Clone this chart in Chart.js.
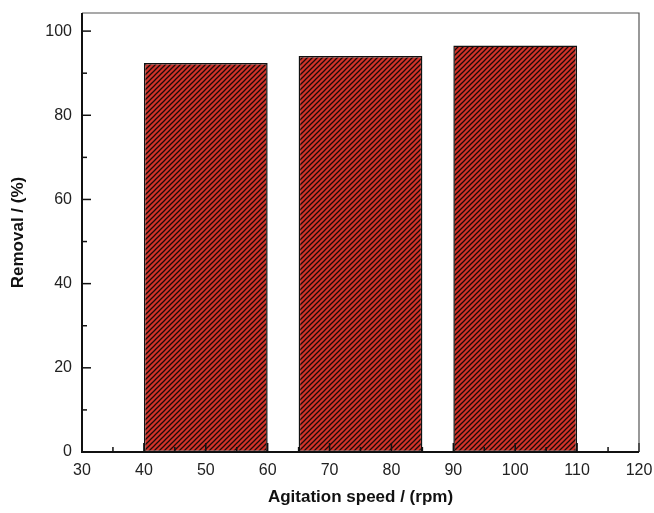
<!DOCTYPE html>
<html>
<head>
<meta charset="utf-8">
<script src="https://cdn.jsdelivr.net/npm/chart.js@4"></script>
<style>
  html, body { margin: 0; padding: 0; background: #fff; }
  #wrap { width: 654px; height: 513px; }
</style>
</head>
<body>
<div id="wrap"><canvas id="removalChart"></canvas></div>
<script>
// --- data ---
const speeds = [50, 75, 100];            // bar centres, rpm
const removal = [92.4, 94.1, 96.6];      // removal, %
const xTicks = [30, 40, 50, 60, 70, 80, 90, 100, 110, 120];
const yTicks = [0, 20, 40, 60, 80, 100];
const barWidthRpm = 20;                  // each bar spans 20 rpm
const xStep = 5;
const yStep = 10;

// diagonal hatch: red with black "/" lines
const makeHatch = () => {
    const s = 5;
    const c = document.createElement('canvas');
    c.width = s; c.height = s;
    const g = c.getContext('2d');
    g.fillStyle = '#d0332a';
    g.fillRect(0, 0, s, s);
    g.strokeStyle = '#1a0a08';
    g.lineWidth = 1.25;
    g.beginPath();
    g.moveTo(-1, s + 1); g.lineTo(s + 1, -1);
    g.moveTo(-1, 1); g.lineTo(1, -1);
    g.moveTo(s - 1, s + 1); g.lineTo(s + 1, s - 1);
    g.stroke();
    return g.createPattern(c, 'repeat');
};

// frame + inward ticks (major and minor)
const frameTicks = {
    id: 'frameTicks',
    afterDatasetsDraw(chart) {
        const {ctx, chartArea: a, scales: {x, y}} = chart;
        ctx.save();
        ctx.strokeStyle = '#111';
        ctx.lineWidth = 1.5;
        x.ticks.forEach(t => {
            const px = x.getPixelForValue(t.value);
            const len = xTicks.includes(t.value) ? 9 : 5;
            ctx.beginPath(); ctx.moveTo(px, a.bottom); ctx.lineTo(px, a.bottom - len); ctx.stroke();
        });
        y.ticks.forEach(t => {
            const py = y.getPixelForValue(t.value);
            const len = yTicks.includes(t.value) ? 9 : 5;
            ctx.beginPath(); ctx.moveTo(a.left, py); ctx.lineTo(a.left + len, py); ctx.stroke();
        });
        ctx.strokeStyle = '#555';
        ctx.lineWidth = 1.2;
        ctx.beginPath();
        ctx.moveTo(a.left, a.top); ctx.lineTo(a.right, a.top); ctx.lineTo(a.right, a.bottom);
        ctx.stroke();
        ctx.strokeStyle = '#111';
        ctx.lineWidth = 2;
        ctx.beginPath();
        ctx.moveTo(a.left, a.top); ctx.lineTo(a.left, a.bottom); ctx.lineTo(a.right, a.bottom);
        ctx.stroke();
        ctx.restore();
    }
};

const ctx = document.getElementById('removalChart').getContext('2d');
new Chart(ctx, {
    type: 'bar',
    data: {
        datasets: [{
            data: speeds.map((s, i) => ({x: s, y: removal[i]})),
            backgroundColor: makeHatch(),
            borderColor: '#111',
            borderWidth: 1.5,
            borderSkipped: false,
            categoryPercentage: 1,
            barPercentage: barWidthRpm / xStep   // ruler spacing is one tick step
        }]
    },
    options: {
        responsive: true,
        maintainAspectRatio: false,
        animation: false,
        layout: { padding: { left: 0, top: 13, right: 15, bottom: 0 } },
        plugins: { legend: { display: false }, tooltip: { enabled: false } },
        scales: {
            x: {
                type: 'linear',
                min: 30, max: 120,
                offset: false,
                grid: { display: false, drawTicks: false },
                border: { display: false },
                afterBuildTicks: s => { s.ticks = []; for (let v = 30; v <= 120; v += xStep) s.ticks.push({value: v}); },
                afterFit: s => { s.height = 61; s.paddingLeft = 0; s.paddingRight = 0; },
                ticks: {
                    padding: 9,
                    color: '#222',
                    font: { family: 'Liberation Sans, Arial, sans-serif', size: 16 },
                    autoSkip: false,
                    maxRotation: 0,
                    callback: v => xTicks.includes(v) ? v : ''
                },
                title: {
                    display: true,
                    text: 'Agitation speed / (rpm)',
                    color: '#111',
                    font: { family: 'Liberation Sans, Arial, sans-serif', size: 17, weight: 'bold' },
                    padding: { top: 0, bottom: 5 }
                }
            },
            y: {
                min: 0, max: 104.3,
                grid: { display: false, drawTicks: false },
                border: { display: false },
                afterBuildTicks: s => { s.ticks = []; for (let v = 0; v <= 100; v += yStep) s.ticks.push({value: v}); },
                afterFit: s => { s.width = 82; s.paddingTop = 0; s.paddingBottom = 0; },
                ticks: {
                    padding: 10,
                    color: '#222',
                    font: { family: 'Liberation Sans, Arial, sans-serif', size: 16 },
                    autoSkip: false,
                    callback: v => yTicks.includes(v) ? v : ''
                },
                title: {
                    display: true,
                    text: 'Removal / (%)',
                    color: '#111',
                    font: { family: 'Liberation Sans, Arial, sans-serif', size: 17, weight: 'bold' },
                    padding: { top: 8, bottom: 0 }
                }
            }
        }
    },
    plugins: [frameTicks]
});
</script>
</body>
</html>
